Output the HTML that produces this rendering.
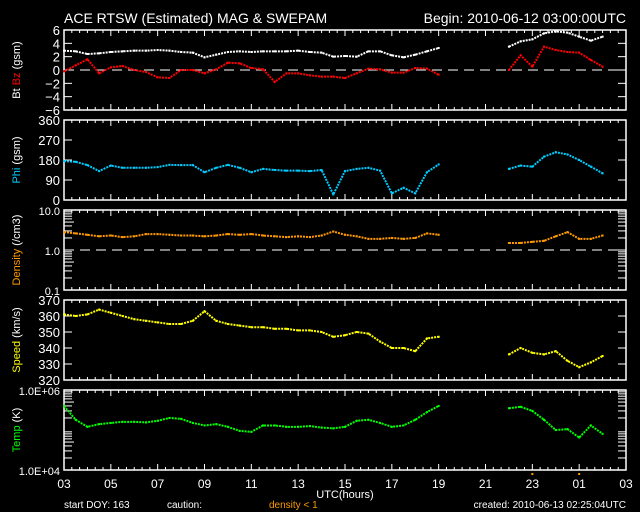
<!DOCTYPE html>
<html><head><meta charset="utf-8"><style>
html,body{margin:0;padding:0;background:#000;}
svg{display:block;font-family:"Liberation Sans",sans-serif;}
</style></head><body>
<svg id="c" width="640" height="512" viewBox="0 0 640 512">
<rect width="640" height="512" fill="#000"/>
<text x="64" y="23" fill="#fff" font-size="14">ACE RTSW (Estimated) MAG &amp; SWEPAM</text>
<text x="626" y="23" fill="#fff" font-size="14" text-anchor="end">Begin: 2010-06-12 03:00:00UTC</text>
<text x="345" y="498" fill="#fff" font-size="11" text-anchor="middle">UTC(hours)</text>
<text x="64" y="508" fill="#fff" font-size="10">start DOY: 163</text>
<text x="167" y="508" fill="#fff" font-size="10">caution:</text>
<text x="269" y="508" fill="#ff9900" font-size="10">density &lt; 1</text>
<text x="626" y="508" fill="#fff" font-size="10" text-anchor="end">created: 2010-06-13 02:25:04UTC</text>
<g id="g"></g>
</svg>
<script>
// hours since 03:00 UTC, 0.5 h step
const bt   = [2.9,2.8,2.4,2.5,2.7,2.8,2.9,2.9,3.0,2.9,2.7,2.6,1.9,2.3,2.7,2.8,2.7,2.8,2.8,2.8,2.9,2.7,2.6,2.0,2.1,2.0,2.8,2.8,2.2,1.9,2.3,2.8,3.3,null,null,null,null,null,3.5,4.3,4.6,5.5,5.8,5.6,5.0,4.4,5.0];
const bz   = [-0.2,0.7,1.6,-0.5,0.4,0.6,0.0,-0.3,-1.1,-1.2,0.0,0.0,-0.5,0.1,1.1,1.0,0.3,0.1,-1.8,-0.5,-0.5,-0.8,-1.0,-1.0,-1.2,-0.5,0.2,0.1,-0.4,-0.4,0.3,0.2,-0.7,null,null,null,null,null,0.0,2.2,0.5,3.5,3.0,2.7,2.6,1.5,0.5];
const phi  = [175,172,157,130,155,145,145,145,148,158,157,157,125,145,158,145,125,140,135,132,132,130,135,25,130,140,145,132,30,55,30,125,160,null,null,null,null,null,140,155,150,195,215,205,180,150,120];
const dens = [2.8,2.6,2.4,2.2,2.3,2.1,2.2,2.5,2.5,2.4,2.3,2.3,2.2,2.3,2.5,2.4,2.5,2.3,2.2,2.1,2.2,2.1,2.3,2.9,2.4,2.2,1.9,1.9,2.0,1.9,2.0,2.6,2.4,null,null,null,null,null,1.5,1.5,1.6,1.7,2.2,2.8,1.9,1.9,2.3];
const speed= [361,360,361,364,362,360,358,357,356,355,355,357,363,357,355,354,353,353,352,352,351,351,350,347,348,350,349,344,340,340,338,346,347,null,null,null,null,null,336,340,337,336,338,332,328,331,335];
const temp = [400000,180000,120000,140000,150000,160000,160000,155000,170000,200000,190000,150000,130000,140000,120000,95000,90000,130000,130000,120000,120000,125000,115000,110000,120000,170000,180000,150000,120000,130000,180000,280000,400000,null,null,null,null,null,350000,380000,300000,180000,100000,105000,65000,130000,80000];
const xLabels = ["03","05","07","09","11","13","15","17","19","21","23","01","03"];
const btTicks = [6,4,2,0,-2,-4,-6];
const phiTicks = [360,270,180,90,0];
const densTicks = ["10.0","1.0","0.1"];
const speedTicks = [370,360,350,340,330,320];
const tempTicks = ["1.0E+06","1.0E+04"];

const NS="http://www.w3.org/2000/svg";
const g=document.getElementById('g');
const X0=64,X1=626;
const xs=h=>X0+h*(X1-X0)/24;
function el(t,a,p){const e=document.createElementNS(NS,t);for(const k in a)e.setAttribute(k,a[k]);(p||g).appendChild(e);return e;}
const panels=[
 {top:30,bot:110,name:'bt-bz-panel'},
 {top:120,bot:200,name:'phi-panel'},
 {top:210,bot:290,name:'density-panel'},
 {top:300,bot:380,name:'speed-panel'},
 {top:390,bot:470,name:'temp-panel'}];
const lin=(p,lo,hi)=>v=>p.bot-(v-lo)/(hi-lo)*(p.bot-p.top);
const lg=(p,lo,hi)=>v=>p.bot-(Math.log10(v)-lo)/(hi-lo)*(p.bot-p.top);
const yBt=lin(panels[0],-6,6), yPhi=lin(panels[1],0,360), yDen=lg(panels[2],-1,1), ySp=lin(panels[3],320,370), yT=lg(panels[4],4,6);

panels.forEach(p=>{
  const r=el('rect',{x:X0,y:p.top,width:X1-X0,height:p.bot-p.top,fill:'none',stroke:'#fff','stroke-width':1.5});
  
  
  for(let i=0;i<=72;i++){const x=xs(i/3);const L=(i%6===0)?6:3;
    el('line',{x1:x,y1:p.top,x2:x,y2:p.top+L,stroke:'#fff'});
    el('line',{x1:x,y1:p.bot,x2:x,y2:p.bot-L,stroke:'#fff'});}
});
function yTicks(vals,fy,labels,p,nm){
  vals.forEach((v,i)=>{const y=fy(v);
    el('line',{x1:X0,y1:y,x2:X0+8,y2:y,stroke:'#fff'});
    el('line',{x1:X1,y1:y,x2:X1-8,y2:y,stroke:'#fff'});
    const t=el('text',{x:X0-4,y:y+5,fill:'#fff','font-size':labels?11:13,'text-anchor':'end'});
    t.textContent=labels?labels[i]:String(v).replace('-','\u2212');
    
    });
}
yTicks(btTicks,yBt,null,panels[0],'bt');
yTicks(phiTicks,yPhi,null,panels[1],'phi');
yTicks([10,1,0.1],yDen,densTicks,panels[2],'density');
yTicks(speedTicks,ySp,null,panels[3],'speed');
yTicks([1e6,1e4],yT,tempTicks,panels[4],'temp');
// log minor ticks
[[yDen,[0.1,1]],[yT,[1e4,1e5]]].forEach(([fy,decs])=>decs.forEach(d=>{for(let k=2;k<=9;k++){const y=fy(d*k);
  el('line',{x1:X0,y1:y,x2:X0+(k===5?10:8),y2:y,stroke:'#fff'});el('line',{x1:X1,y1:y,x2:X1-8,y2:y,stroke:'#fff'});}}));
// dashed reference lines
let d=el('line',{x1:X0,y1:yBt(0),x2:X1,y2:yBt(0),stroke:'#fff','stroke-dasharray':'10,6'});


d=el('line',{x1:X0,y1:yDen(1),x2:X1,y2:yDen(1),stroke:'#fff','stroke-dasharray':'10,6'});



// x labels
xLabels.forEach((l,i)=>{const t=el('text',{x:xs(i*2),y:488,fill:'#fff','font-size':12,'text-anchor':'middle'});t.textContent=l;
  
  });
// caution markers
[20,22].forEach(h=>{el('rect',{x:xs(h)-1,y:473,width:2,height:2,fill:'#ff9900'});});

function series(arr,fy,color,nm){
  let segs=[],cur=[];
  arr.forEach((v,i)=>{if(v===null){if(cur.length)segs.push(cur);cur=[];}else cur.push([xs(i*0.5),fy(v)]);});
  if(cur.length)segs.push(cur);
  const grp=el('g',{});
  
  
  segs.forEach(s=>{const pl=el('polyline',{points:s.map(p=>p.join(',')).join(' '),fill:'none',stroke:color,'stroke-width':2,'stroke-dasharray':'2,1'},grp);
    
    
    s.forEach(p=>{const c=el('rect',{x:p[0]-1,y:p[1]-1,width:2,height:2,fill:color},grp);
      
      });});
}
series(bt,yBt,'#ffffff','bt-series');
series(bz,yBt,'#ff0000','bz-series');
series(phi,yPhi,'#00ccff','phi-series');
series(dens,yDen,'#ff9900','density-series');
series(speed,ySp,'#ffff00','speed-series');
series(temp,yT,'#00ff00','temp-series');

// rotated y-axis titles
function ytitle(cy,parts,nm){const t=el('text',{x:0,y:0,'font-size':11,'text-anchor':'middle',transform:`translate(20,${cy}) rotate(-90)`});
  parts.forEach(([s,c])=>{const ts=el('tspan',{fill:c},t);ts.textContent=s;});
  
  }
ytitle(70,[['Bt ','#fff'],['Bz','#ff0000'],['  (gsm)','#fff']],'bt-bz-axis-title');
ytitle(160,[['Phi','#00ccff'],['  (gsm)','#fff']],'phi-axis-title');
ytitle(250,[['Density','#ff9900'],['  (/cm3)','#fff']],'density-axis-title');
ytitle(340,[['Speed','#ffff00'],['  (km/s)','#fff']],'speed-axis-title');
ytitle(430,[['Temp','#00ff00'],['  (K)','#fff']],'temp-axis-title');
</script>
</body></html>
